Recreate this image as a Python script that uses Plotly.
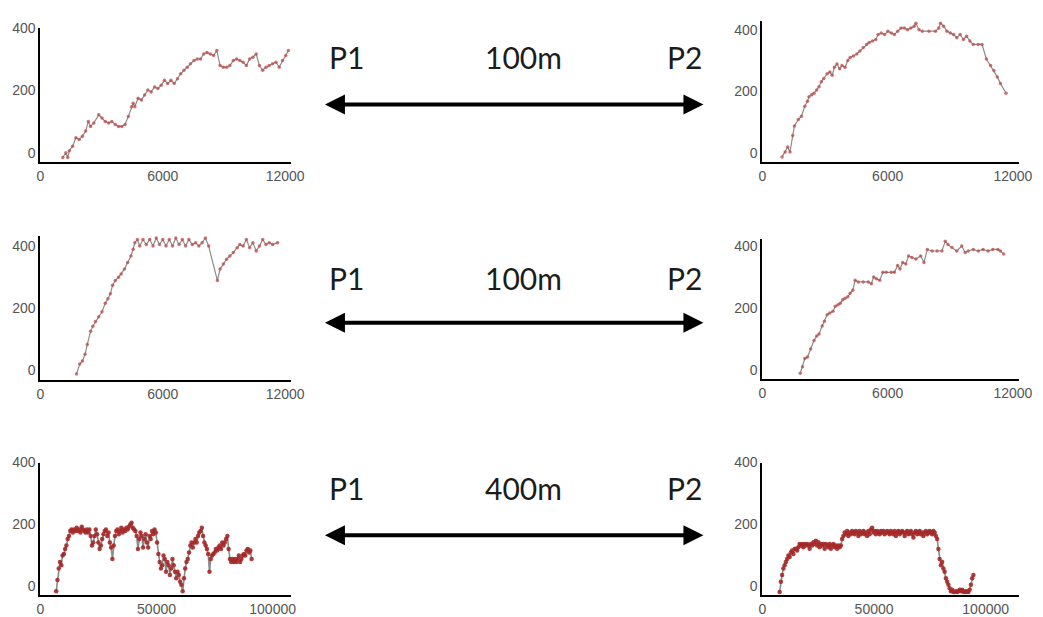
import plotly.graph_objects as go

W, H = 1043, 617

# ---------------- data ----------------
# row 1, left (P1 side, 100 m)
x_r1_left = [1100, 1250, 1340, 1420, 1580, 1740, 1900, 2060, 2220, 2350, 2460, 2620, 2860, 3020, 3180,
             3350, 3500, 3670, 3830, 3990, 4150, 4310, 4470, 4550, 4630, 4790, 4950, 5110, 5270, 5430,
             5600, 5760, 5920, 6080, 6240, 6400, 6560, 6720, 6880, 7040, 7200, 7360, 7530, 7690, 7850,
             8010, 8170, 8330, 8490, 8650, 8810, 8970, 9130, 9290, 9460, 9620, 9780, 9940, 10100, 10260,
             10420, 10580, 10740, 10900, 11060, 11220, 11380, 11550, 11710, 11870, 12030, 12160]
y_r1_left = [-14, 1, -14, 7, 22, 49, 43, 54, 70, 101, 85, 96, 122, 112, 101, 96, 101, 91, 85, 85,
             91, 117, 148, 159, 148, 175, 169, 185, 201, 195, 211, 206, 216, 232, 222, 232, 222, 237, 253, 264,
             274, 285, 295, 300, 300, 316, 321, 316, 311, 327, 279, 274, 274, 279, 295, 300, 295, 290, 279, 300,
             306, 316, 279, 264, 274, 279, 285, 290, 274, 295, 311, 327]

# row 1, right (P2 side, 100 m)
x_r1_right = [940, 1090, 1210, 1320, 1450, 1530, 1720, 1870, 2030, 2160, 2230, 2360, 2470, 2600, 2710,
              2820, 2940, 3100, 3230, 3340, 3450, 3570, 3700, 3810, 3960, 4090, 4200, 4360, 4520, 4670,
              4830, 4990, 5110, 5270, 5430, 5540, 5690, 5850, 6010, 6170, 6320, 6480, 6640, 6800, 6950,
              7110, 7270, 7350, 7500, 7660, 7980, 8290, 8450, 8530, 8680, 8840, 9000, 9160, 9310, 9470,
              9630, 9780, 9940, 10100, 10340, 10520, 10730, 10930, 11090, 11250, 11400, 11670]
y_r1_right = [-12, 4, 20, 4, 57, 88, 109, 120, 152, 168, 183, 189, 194, 205, 215, 231, 242, 257, 263, 252,
              278, 289, 273, 284, 278, 300, 310, 315, 321, 331, 342, 352, 358, 363, 368, 384, 389, 384, 395, 389,
              384, 395, 405, 405, 400, 405, 411, 421, 400, 395, 395, 395, 405, 421, 411, 395, 389, 384, 374, 384,
              368, 379, 363, 352, 352, 352, 305, 284, 268, 247, 226, 194]

# row 2, left (P1 side, 100 m)
x_r2_left = [1770, 1930, 2060, 2190, 2300, 2460, 2570, 2700, 2860, 3020, 3180, 3310, 3430, 3540, 3670,
             3830, 3960, 4120, 4280, 4440, 4550, 4630, 4760, 4870, 5030, 5190, 5360, 5520, 5680, 5840,
             6000, 6160, 6320, 6480, 6640, 6800, 6960, 7120, 7280, 7450, 7610, 7770, 7930, 8090, 8250,
             8680, 8810, 8970, 9130, 9290, 9460, 9650, 9780, 9940, 10100, 10260, 10420, 10580, 10740, 10900,
             11060, 11220, 11390, 11630]
y_r2_left = [-11, 21, 31, 52, 84, 126, 142, 158, 173, 189, 216, 231, 247, 274, 289, 300, 310, 326, 347, 368,
             390, 411, 421, 400, 421, 405, 421, 400, 426, 405, 421, 400, 421, 400, 426, 405, 421, 400, 421, 405,
             411, 400, 411, 426, 400, 289, 326, 342, 358, 368, 379, 395, 405, 400, 421, 395, 411, 384, 400, 421,
             405, 411, 405, 411]

# row 2, right (P2 side, 100 m)
x_r2_right = [1810, 1920, 2030, 2160, 2310, 2470, 2600, 2710, 2860, 2970, 3100, 3230, 3380, 3490, 3620,
              3730, 3850, 3960, 4090, 4200, 4330, 4440, 4590, 4830, 5070, 5220, 5330, 5460, 5620, 5770,
              5930, 6170, 6320, 6480, 6590, 6720, 6870, 7000, 7160, 7350, 7580, 7740, 7900, 8130, 8370,
              8600, 8760, 8890, 9080, 9310, 9550, 9710, 9860, 10100, 10340, 10570, 10810, 11040, 11280, 11400,
              11560]
y_r2_right = [-12, 9, 36, 41, 67, 94, 109, 115, 141, 157, 178, 183, 189, 205, 210, 215, 226, 231, 236, 247,
              257, 289, 284, 284, 284, 278, 300, 294, 289, 315, 315, 315, 315, 337, 326, 347, 342, 368, 363, 358,
              368, 347, 389, 384, 384, 384, 416, 405, 395, 384, 400, 379, 384, 389, 384, 389, 384, 389, 389, 384,
              374]

# row 3, left (P1 side, 400 m)
x_r3_left = [6800, 7350, 7900, 8450, 9000, 9550, 10100, 10650, 11200, 11750,
             12300, 12850, 13400, 13950, 14500, 15050, 15600, 16150, 16700, 17250,
             17800, 18350, 18900, 19450, 20000, 20550, 21100, 21650, 22200, 22750,
             23300, 23850, 24400, 24950, 25500, 26050, 26600, 27150, 27700, 28250,
             28800, 29350, 29900, 30450, 31000, 31550, 32100, 32650, 33200, 33750,
             34300, 34850, 35400, 35950, 36500, 37050, 37600, 38150, 38700, 39250,
             39800, 40350, 40900, 41450, 42000, 42550, 43100, 43650, 44200, 44750,
             45300, 45850, 46400, 46950, 47500, 48050, 48600, 49150, 49700, 50250,
             50800, 51350, 51900, 52450, 53000, 53550, 54100, 54650, 55200, 55750,
             56300, 56850, 57400, 57950, 58500, 59050, 59600, 60150, 60700, 61250,
             61800, 62350, 62900, 63450, 64000, 64550, 65100, 65650, 66200, 66750,
             67300, 67850, 68400, 68950, 69500, 70050, 70600, 71150, 71700, 72250,
             72800, 73350, 73900, 74450, 75000, 75550, 76100, 76650, 77200, 77750,
             78300, 78850, 79400, 79950, 80500, 81050, 81600, 82150, 82700, 83250,
             83800, 84350, 84900, 85450, 86000, 86550, 87100, 87650, 88200, 88750,
             89300, 89850, 90400, 90950]
y_r3_left = [-17, 20, 57, 78, 67, 99, 104, 120, 131, 152, 162, 178, 183,
             173, 183, 178, 189, 178, 183, 173, 192, 183, 178,
             173, 183, 173, 183, 162, 131, 141, 162, 183, 168,
             141, 120, 131, 152, 168, 178, 183, 162, 173, 141,
             125, 88, 131, 162, 178, 183, 168, 178, 189, 173,
             183, 178, 189, 183, 192, 199, 205, 189, 183, 178,
             162, 120, 152, 173, 162, 125, 152, 168, 141, 125,
             162, 152, 178, 168, 183, 173, 141, 104, 78, 57,
             67, 99, 88, 46, 78, 67, 36, 57, 88, 67,
             46, 25, 46, 36, 14, 4, -17, 25, 57, 78,
             88, 109, 131, 141, 125, 141, 152, 141, 162, 173,
             178, 189, 162, 141, 131, 120, 104, 46, 88, 99,
             104, 109, 120, 115, 125, 131, 120, 141, 131, 141,
             152, 162, 120, 88, 78, 88, 78, 88, 78, 88,
             99, 78, 88, 99, 104, 99, 115, 120, 109, 115,
             88]

# row 3, right (P2 side, 400 m)
x_r3_right = [7700, 8260, 8820, 9380, 9940, 10500, 11060, 11620, 12180, 12740,
              13300, 13860, 14420, 14980, 15540, 16100, 16660, 17220, 17780, 18340,
              18900, 19460, 20020, 20580, 21140, 21700, 22260, 22820, 23380, 23940,
              24500, 25060, 25620, 26180, 26740, 27300, 27860, 28420, 28980, 29540,
              30100, 30660, 31220, 31780, 32340, 32900, 33460, 34020, 34580, 35140,
              35700, 36260, 36820, 37380, 37940, 38500, 39060, 39620, 40180, 40740,
              41300, 41860, 42420, 42980, 43540, 44100, 44660, 45220, 45780, 46340,
              46900, 47460, 48020, 48580, 49140, 49700, 50260, 50820, 51380, 51940,
              52500, 53060, 53620, 54180, 54740, 55300, 55860, 56420, 56980, 57540,
              58100, 58660, 59220, 59780, 60340, 60900, 61460, 62020, 62580, 63140,
              63700, 64260, 64820, 65380, 65940, 66500, 67060, 67620, 68180, 68740,
              69300, 69860, 70420, 70980, 71540, 72100, 72660, 73220, 73780, 74340,
              74900, 75460, 76020, 76580, 77140, 77700, 78260, 78820, 79380, 79940,
              80500, 81060, 81620, 82180, 82740, 83300, 83860, 84420, 84980, 85540,
              86100, 86660, 87220, 87780, 88340, 88900, 89460, 90020, 90580, 91140,
              91700, 92260, 92820, 93380, 93940, 94500]
y_r3_right = [-19, 14, 36, 57, 67, 78, 88, 99, 94, 109, 115, 104, 120, 121, 115,
              126, 136, 131, 136, 126, 136, 131, 136, 131, 121,
              136, 131, 142, 136, 147, 131, 142, 126, 136, 131,
              136, 121, 136, 131, 126, 136, 121, 131, 136, 126,
              131, 121, 131, 126, 131, 152, 162, 173, 168, 178,
              162, 173, 168, 178, 173, 168, 178, 173, 162, 178,
              168, 173, 178, 168, 173, 162, 178, 168, 183, 189,
              173, 178, 168, 178, 173, 168, 178, 173, 178, 168,
              173, 178, 173, 168, 178, 173, 168, 178, 162, 173,
              178, 168, 173, 178, 173, 162, 173, 178, 168, 173,
              178, 168, 157, 173, 178, 168, 173, 178, 168, 173,
              162, 173, 178, 168, 173, 178, 173, 168, 178, 173,
              162, 152,
              120, 88,
              67, 78, 57, 46, 25, 14, 4, -7, -17,
              -12, -19, -19, -17, -19, -17, -12, -17, -12, -19, -17, -19, -17, -19, -12,
              4, 25, 36]

y_tick_vals = [0, 200, 400]
x_ticks_short = [0, 6000, 12000]
x_ticks_long = [0, 50000, 100000]

distance_labels = ["100m", "100m", "400m"]
end_labels = ["P1", "P2"]

# ---------------- layout geometry (pixels) ----------------
# each panel: data, x-range end, x ticks, left/right px of the x axis,
# px of the x axis line, px of the y=400 tick, top of the y range, dense flag
panels = [
    (x_r1_left, y_r1_left, 12300, x_ticks_short, 37, 292, 157, 20, 400, False),
    (x_r1_right, y_r1_right, 12300, x_ticks_short, 771, 1032, 157, 22, 428, False),
    (x_r2_left, y_r2_left, 12300, x_ticks_short, 37, 292, 378, 242, 432, False),
    (x_r2_right, y_r2_right, 12300, x_ticks_short, 771, 1032, 377, 242, 422, False),
    (x_r3_left, y_r3_left, 108000, x_ticks_long, 37, 292, 597, 462, 400, True),
    (x_r3_right, y_r3_right, 115000, x_ticks_long, 771, 1032, 597, 462, 400, True),
]
Y_MIN = -30

tick_font = dict(family="Liberation Sans, Arial, sans-serif", size=14, color="#555555")

fig = go.Figure()
layout = {}

for i, (xs, ys, xmax, xt, left, right, axis_px, px400, ymax, dense) in enumerate(panels, start=1):
    sfx = "" if i == 1 else str(i)
    scale = (axis_px - px400) / (400 - Y_MIN)
    top_px = px400 - (ymax - 400) * scale
    if dense:
        line = dict(color="#8a8a8a", width=1.6)
        marker = dict(color="rgba(165, 40, 40, 0.9)", size=4.5, line=dict(width=0))
    else:
        line = dict(color="#8c8c8c", width=1.2)
        marker = dict(color="rgba(190, 75, 75, 0.75)", size=3.5, line=dict(width=0))
    fig.add_trace(go.Scatter(
        x=xs, y=ys, mode="lines+markers",
        xaxis="x" + sfx, yaxis="y" + sfx,
        line=line, marker=marker, hoverinfo="skip",
    ))
    layout["xaxis" + sfx] = dict(
        domain=[left / W, right / W], anchor="y" + sfx,
        range=[0, xmax], tickvals=xt, ticktext=[str(v) for v in xt],
        showgrid=False, zeroline=False, showline=True, linecolor="black", linewidth=2,
        ticks="", tickfont=tick_font, fixedrange=True,
    )
    layout["yaxis" + sfx] = dict(
        domain=[1 - axis_px / H, 1 - top_px / H], anchor="x" + sfx,
        range=[Y_MIN, ymax], tickvals=y_tick_vals, ticktext=[str(v) for v in y_tick_vals],
        showgrid=False, zeroline=False, showline=True, linecolor="black", linewidth=2,
        ticks="", tickfont=tick_font, fixedrange=True,
    )

# ---------------- distance annotations between the panel pairs ----------------
text_font = dict(family="Lato, 'Open Sans', sans-serif", size=30, color="#1c1c1c")
row_text_y = [50, 274, 488]
row_arrow_y = [98, 320, 536]
x_p1, x_mid, x_p2 = 348, 528, 692
arrow_left, arrow_right = 331, 711

annotations = []
for label, ty, ay in zip(distance_labels, row_text_y, row_arrow_y):
    for txt, cx in ((end_labels[0], x_p1), (label, x_mid), (end_labels[1], x_p2)):
        annotations.append(dict(
            x=cx / W, y=1 - ty / H, xref="paper", yref="paper",
            text=txt, showarrow=False, font=text_font,
            xanchor="center", yanchor="middle",
        ))
    # double-headed arrow between P1 and P2
    annotations.append(dict(
        x=arrow_right / W, y=1 - ay / H, xref="paper", yref="paper",
        ax=arrow_left - arrow_right, ay=0, axref="pixel", ayref="pixel",
        text="", showarrow=True, arrowside="end+start",
        arrowhead=2, startarrowhead=2, arrowsize=1.0, startarrowsize=1.0,
        arrowwidth=4, arrowcolor="black", standoff=0, startstandoff=0,
    ))

fig.update_layout(
    width=W, height=H, autosize=False,
    margin=dict(l=0, r=0, t=0, b=0),
    paper_bgcolor="white", plot_bgcolor="white",
    showlegend=False,
    annotations=annotations,
    **layout,
)

fig.write_html("out.html", config={"displayModeBar": False})
